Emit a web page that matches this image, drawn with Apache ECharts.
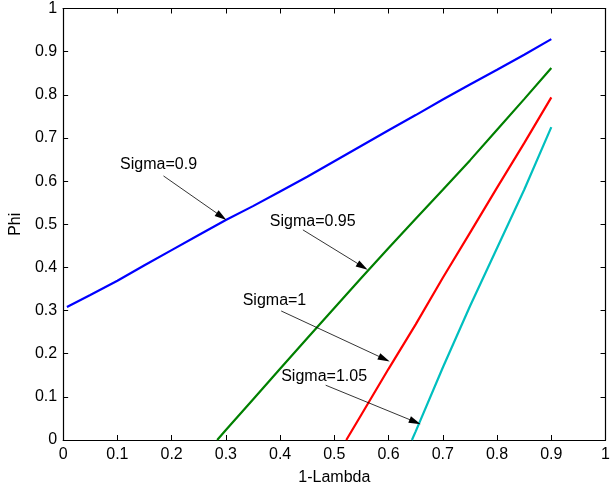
<!DOCTYPE html>
<html>
<head>
<meta charset="utf-8">
<script src="https://cdn.jsdelivr.net/npm/echarts@6/dist/echarts.min.js"></script>
<style>html,body{margin:0;padding:0;background:#fff;}#c{width:613px;height:491px;}</style>
</head>
<body>
<div id="c"></div>
<script>
const xTicks = [0,0.1,0.2,0.3,0.4,0.5,0.6,0.7,0.8,0.9,1];
const yTicks = [0,0.1,0.2,0.3,0.4,0.5,0.6,0.7,0.8,0.9,1];

const blueX = [0.007,0.05,0.1,0.15,0.2,0.25,0.3,0.35,0.4,0.45,0.5,0.55,0.6,0.65,0.7,0.75,0.8,0.85,0.9];
const blueY = [0.308,0.336,0.369,0.405,0.44,0.475,0.51,0.542,0.576,0.61,0.646,0.682,0.718,0.753,0.789,0.824,0.858,0.893,0.929];

const greenX = [0.284,0.3,0.35,0.4,0.45,0.5,0.55,0.6,0.65,0.7,0.75,0.8,0.85,0.9];
const greenY = [0,0.023,0.094,0.165,0.236,0.306,0.376,0.445,0.513,0.58,0.648,0.719,0.79,0.862];

const redX = [0.522,0.55,0.6,0.65,0.7,0.75,0.8,0.85,0.9];
const redY = [0,0.059,0.165,0.268,0.376,0.48,0.585,0.688,0.794];

const cyanX = [0.643,0.65,0.7,0.75,0.8,0.85,0.9];
const cyanY = [0,0.02,0.168,0.31,0.445,0.58,0.725];

const labels = ['Sigma=0.9','Sigma=0.95','Sigma=1','Sigma=1.05'];
const labelPos = [[0.105,0.638],[0.381,0.505],[0.331,0.322],[0.402,0.148]];
const arrowFrom = [[0.185,0.612],[0.442,0.487],[0.402,0.299],[0.484,0.127]];
const arrowTo = [[0.292,0.518],[0.552,0.402],[0.592,0.188],[0.649,0.042]];

const FONT = '"Liberation Sans", Arial, sans-serif';
function pairs(xs, ys){ return xs.map((x,i)=>[x, ys[i]]); }

const chart = echarts.init(document.getElementById('c'));
const axisCommon = {
  type:'value', min:0, max:1, interval:0.1,
  axisLine:{show:true, onZero:false, lineStyle:{color:'#000', width:1.2}},
  axisTick:{show:true, inside:true, length:5, lineStyle:{color:'#000'}},
  splitLine:{show:false}
};
function fmt(v){ return (Math.round(v*10)/10).toString(); }

function lineSeries(xs, ys, color){
  return {type:'line', data:pairs(xs,ys), showSymbol:false, symbol:'none',
    lineStyle:{color:color, width:2.2}, itemStyle:{color:color}, silent:true, animation:false, xAxisIndex:0, yAxisIndex:0};
}

chart.setOption({
  animation:false,
  grid:{left:58.7, right:4.3, top:8.5, bottom:47.5, containLabel:false},
  xAxis:[
    Object.assign({}, axisCommon, {position:'bottom', name:'1-Lambda', nameLocation:'middle', nameGap:30,
      nameTextStyle:{color:'#000', fontSize:16, fontFamily:FONT},
      axisLabel:{color:'#000', fontSize:16, fontFamily:FONT, margin:7, formatter:fmt}}),
    Object.assign({}, axisCommon, {position:'top', axisLabel:{show:false}})
  ],
  yAxis:[
    Object.assign({}, axisCommon, {position:'left', name:'Phi', nameLocation:'middle', nameGap:37,
      nameTextStyle:{color:'#000', fontSize:16, fontFamily:FONT},
      axisLabel:{color:'#000', fontSize:16, fontFamily:FONT, margin:6, formatter:fmt}}),
    Object.assign({}, axisCommon, {position:'right', axisLabel:{show:false}})
  ],
  series:[
    lineSeries(blueX, blueY, '#0000ff'),
    lineSeries(greenX, greenY, '#008000'),
    lineSeries(redX, redY, '#ff0000'),
    lineSeries(cyanX, cyanY, '#00bfbf'),
    {
      type:'line', data:[], xAxisIndex:0, yAxisIndex:0, silent:true,
      itemStyle:{color:'#000'},
      markLine:{
        silent:true, animation:false,
        symbol:['none','triangle'], symbolSize:12,
        itemStyle:{color:'#000'},
        lineStyle:{color:'#000', width:0.8, type:'solid'},
        label:{show:false},
        data: arrowFrom.map((p,i)=>[{coord:p},{coord:arrowTo[i], symbol:'triangle', symbolSize:[7,12]}])
      },
      markPoint:{
        silent:true, animation:false,
        symbol:'circle', symbolSize:0,
        label:{show:true, position:'right', distance:0, color:'#000', fontSize:16, fontFamily:FONT,
          formatter:(p)=>p.name},
        data: labels.map((t,i)=>({name:t, coord:labelPos[i]}))
      }
    }
  ]
});
</script>
</body>
</html>
